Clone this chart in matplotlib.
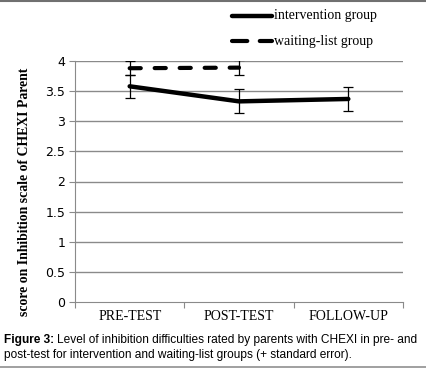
import matplotlib
matplotlib.use("Agg")
import matplotlib.pyplot as plt
from matplotlib.lines import Line2D

categories = ["PRE-TEST", "POST-TEST", "FOLLOW-UP"]
intervention = [3.58, 3.33, 3.37]
intervention_err = [0.19, 0.20, 0.20]
waiting = [3.88, 3.89]
waiting_err = [0.12, 0.12]
yticks = [0, 0.5, 1, 1.5, 2, 2.5, 3, 3.5, 4]
ytick_labels = ["0", "0.5", "1", "1.5", "2", "2.5", "3", "3.5", "4"]
series_names = ["intervention group", "waiting-list group"]

plt.rcParams['lines.scale_dashes'] = False
W, H = 426, 369
fig = plt.figure(figsize=(W / 100, H / 100), dpi=100)
ax = fig.add_axes([75 / W, 1 - 302 / H, (403 - 75) / W, (302 - 61) / H])

grid_c = "#8a8a8a"
x = list(range(len(categories)))
ax.set_xlim(-0.5, len(categories) - 0.5)
ax.set_ylim(0, 4)
for yv in yticks[1:]:
    ax.axhline(yv, color=grid_c, lw=1.0, zorder=0)

ax.errorbar(x, intervention, yerr=intervention_err, color="black", lw=3.2,
            elinewidth=0.9, capsize=3.5, capthick=0.9, solid_capstyle='round', zorder=3)
wl, = ax.plot(x[:len(waiting)], waiting, color="black", lw=3.0, zorder=3,
              dash_capstyle='round')
wl.set_dashes([8, 10])
ax.errorbar(x[:len(waiting)], waiting, yerr=waiting_err, fmt='none', ecolor="black",
            elinewidth=0.9, capsize=3.5, capthick=0.9, zorder=3)

for s in ["top", "right"]:
    ax.spines[s].set_visible(False)
ax.spines["left"].set_color(grid_c)
ax.spines["bottom"].set_color(grid_c)
ax.set_yticks(yticks)
ax.set_yticklabels(ytick_labels, fontsize=9, family="DejaVu Sans")
ax.tick_params(axis='y', length=4, color=grid_c, pad=3)
ax.set_xticks([-0.5, 0.5, 1.5, 2.5])
ax.set_xticklabels([])
ax.set_xticks(x, minor=True)
ax.set_xticklabels(categories, minor=True, fontsize=10, family="Liberation Serif")
ax.tick_params(axis='x', which='major', length=4, color=grid_c)
ax.tick_params(axis='x', which='minor', length=0, pad=6)

fig.text(25 / W, 1 - 192 / H, "score on Inhibition scale of CHEXI Parent", rotation=90,
         ha='center', va='center', fontsize=9.9, fontweight='bold', family="Liberation Serif")

# legend
l1 = Line2D([232 / W, 272 / W], [1 - 16 / H, 1 - 16 / H], transform=fig.transFigure,
            color='black', lw=3.2, solid_capstyle='round')
l2 = Line2D([232 / W, 272 / W], [1 - 41 / H, 1 - 41 / H], transform=fig.transFigure,
            color='black', lw=3.0, dash_capstyle='round')
l2.set_dashes([11, 9])
fig.add_artist(l1)
fig.add_artist(l2)
fig.text(274 / W, 1 - 16 / H, series_names[0], va='center', ha='left', fontsize=10,
         family="Liberation Serif")
fig.text(274 / W, 1 - 41 / H, series_names[1], va='center', ha='left', fontsize=10,
         family="Liberation Serif")

# frame lines
fig.add_artist(Line2D([0, 1], [1 - 0.5 / H, 1 - 0.5 / H], transform=fig.transFigure, color="#707070", lw=1.5))
fig.add_artist(Line2D([0, 1], [1 - 367 / H, 1 - 367 / H], transform=fig.transFigure, color="#909090", lw=1.2))

# caption
cap_fs = 8.55
fig.canvas.draw()
r = fig.canvas.get_renderer()
t0 = fig.text(4 / W, 1 - 340 / H, "Figure 3:", fontsize=cap_fs, fontweight='bold',
              family="Liberation Sans", va='center', ha='left')
bb = t0.get_window_extent(renderer=r)
fig.text((bb.x1 + 3) / W, 1 - 340 / H,
         "Level of inhibition difficulties rated by parents with CHEXI in pre- and",
         fontsize=cap_fs, family="Liberation Sans", va='center', ha='left')
fig.text(4 / W, 1 - 355 / H,
         "post-test for intervention and waiting-list groups (+ standard error).",
         fontsize=cap_fs, family="Liberation Sans", va='center', ha='left')

fig.savefig("out.png", dpi=100)
